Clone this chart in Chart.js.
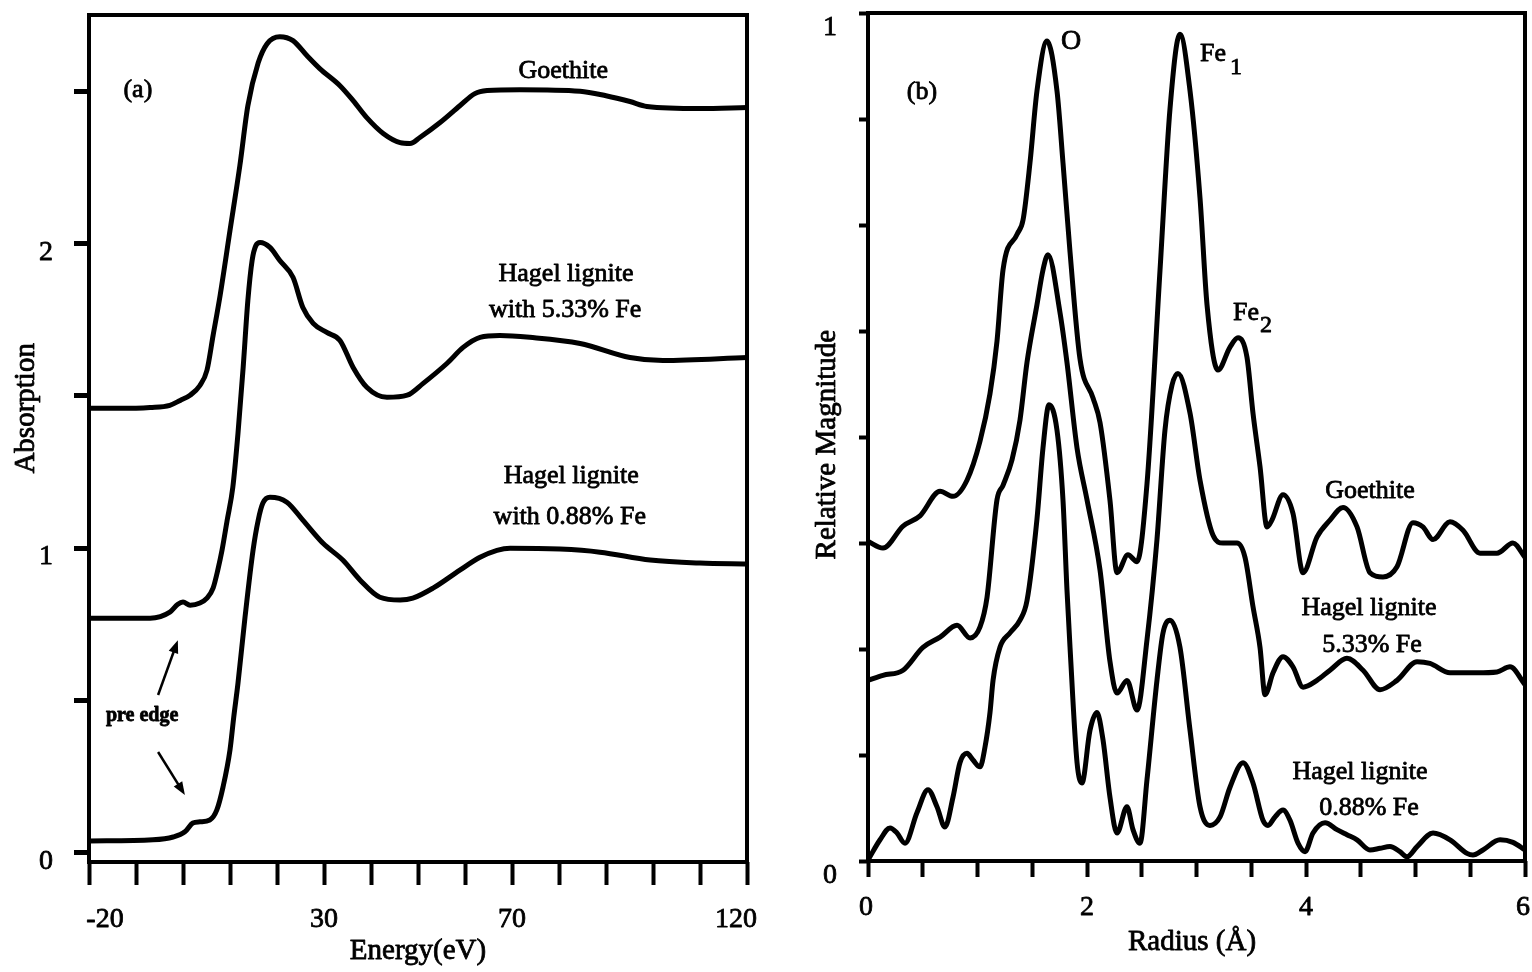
<!DOCTYPE html>
<html>
<head>
<meta charset="utf-8">
<script src="https://cdn.jsdelivr.net/npm/chart.js@4.4.1/dist/chart.umd.min.js"></script>
<style>
  html, body { margin: 0; padding: 0; background: #fff; }
  #wrap { position: relative; width: 1532px; height: 972px; overflow: hidden; }
  .panel { position: absolute; top: 0; width: 766px; height: 972px; }
  #panelA { left: 0; }
  #panelB { left: 766px; }
</style>
</head>
<body>
<div id="wrap">
  <div class="panel" id="panelA"><canvas id="chartA"></canvas></div>
  <div class="panel" id="panelB"><canvas id="chartB"></canvas></div>
</div>
<script>
// (a) XANES: absorption vs energy, spectra offset vertically
const energyGoethite = [-20, -13.4, -7, -2.8, -0.6, 1.5, 3.6, 5.1, 6.4, 7.9, 10.0, 12.1, 13.8, 16.0, 17.9, 20.6, 23.4, 26.4, 29.1, 33.4, 36.2, 39.1, 42.6, 46.2, 48.3, 50.4, 54.7, 58.9, 62.1, 64.7, 71.7, 84.5, 90.0, 95.1, 98.7, 110, 120];
const absGoethite = [1.459, 1.459, 1.462, 1.469, 1.485, 1.502, 1.534, 1.584, 1.698, 1.830, 2.043, 2.256, 2.452, 2.593, 2.656, 2.679, 2.666, 2.616, 2.574, 2.518, 2.469, 2.413, 2.361, 2.331, 2.328, 2.348, 2.397, 2.452, 2.492, 2.502, 2.505, 2.500, 2.485, 2.466, 2.450, 2.443, 2.446];

const energyHagel533 = [-20, -7, -2.8, -1.1, 0, 1.5, 3.6, 5.1, 6.4, 7.4, 8.3, 9.4, 10.6, 11.7, 12.8, 13.8, 14.7, 15.5, 16.4, 18.5, 20.6, 23.4, 25.5, 27.7, 30.6, 33.4, 36.2, 39.1, 43.4, 47.7, 51.1, 56.2, 59.6, 63.2, 67.4, 73.8, 84.5, 95.1, 102.1, 120];
const absHagel533 = [0.770, 0.770, 0.790, 0.816, 0.823, 0.813, 0.820, 0.836, 0.869, 0.928, 0.993, 1.092, 1.200, 1.377, 1.593, 1.813, 1.944, 1.993, 2.003, 1.987, 1.944, 1.889, 1.790, 1.738, 1.708, 1.682, 1.593, 1.528, 1.495, 1.502, 1.541, 1.607, 1.659, 1.692, 1.698, 1.692, 1.672, 1.626, 1.616, 1.626];

const energyHagel088 = [-20, -6.4, -2.1, 0.4, 2.1, 3.6, 5.7, 7.2, 8.5, 10.0, 10.8, 11.7, 13.2, 14.9, 16.0, 17.0, 18.5, 22.1, 25.5, 29.8, 34.0, 37.7, 41.9, 46.2, 48.9, 53.2, 58.9, 63.2, 66.8, 69.6, 80.2, 88.7, 99.4, 110, 120];
const absHagel088 = [0.039, 0.043, 0.052, 0.069, 0.098, 0.102, 0.108, 0.141, 0.215, 0.338, 0.446, 0.557, 0.774, 0.993, 1.092, 1.148, 1.167, 1.151, 1.092, 1.016, 0.961, 0.895, 0.839, 0.830, 0.836, 0.869, 0.928, 0.970, 0.993, 1.000, 0.997, 0.987, 0.961, 0.951, 0.948];

const energyTickLabels = [-20, 30, 70, 120];
const absorptionTickLabels = [0, 1, 2];

// (b) Fourier transform magnitude vs radius
const radiusGoethite = [0, 0.137, 0.320, 0.475, 0.658, 0.776, 0.904, 1.023, 1.114, 1.178, 1.233, 1.361, 1.416, 1.479, 1.543, 1.635, 1.726, 1.781, 1.845, 1.936, 2.055, 2.119, 2.210, 2.274, 2.374, 2.457, 2.548, 2.667, 2.758, 2.849, 2.941, 3.032, 3.096, 3.196, 3.306, 3.379, 3.461, 3.516, 3.580, 3.644, 3.689, 3.790, 3.881, 3.973, 4.100, 4.219, 4.338, 4.466, 4.584, 4.703, 4.831, 4.977, 5.068, 5.160, 5.315, 5.434, 5.589, 5.744, 5.890, 6.0];
const magGoethite = [0.377, 0.369, 0.395, 0.407, 0.436, 0.430, 0.449, 0.495, 0.551, 0.613, 0.697, 0.739, 0.756, 0.823, 0.908, 0.967, 0.908, 0.823, 0.718, 0.592, 0.546, 0.517, 0.425, 0.340, 0.361, 0.353, 0.445, 0.697, 0.887, 0.975, 0.908, 0.782, 0.656, 0.579, 0.606, 0.617, 0.594, 0.528, 0.465, 0.394, 0.402, 0.432, 0.410, 0.340, 0.382, 0.402, 0.417, 0.394, 0.340, 0.335, 0.347, 0.399, 0.394, 0.379, 0.400, 0.390, 0.363, 0.363, 0.375, 0.358];

const radiusHagel533 = [0, 0.137, 0.320, 0.502, 0.658, 0.813, 0.932, 1.023, 1.087, 1.178, 1.233, 1.315, 1.388, 1.452, 1.543, 1.598, 1.644, 1.753, 1.817, 1.909, 2.000, 2.119, 2.210, 2.274, 2.365, 2.457, 2.548, 2.639, 2.712, 2.776, 2.831, 2.941, 3.032, 3.151, 3.242, 3.370, 3.443, 3.516, 3.580, 3.626, 3.699, 3.790, 3.881, 3.973, 4.100, 4.219, 4.374, 4.521, 4.676, 4.831, 5.014, 5.132, 5.315, 5.562, 5.744, 5.863, 6.0];
const magHagel533 = [0.213, 0.219, 0.225, 0.252, 0.264, 0.278, 0.263, 0.276, 0.311, 0.426, 0.443, 0.473, 0.520, 0.588, 0.656, 0.697, 0.715, 0.647, 0.588, 0.487, 0.426, 0.343, 0.235, 0.198, 0.213, 0.178, 0.261, 0.379, 0.508, 0.561, 0.575, 0.528, 0.449, 0.384, 0.375, 0.375, 0.358, 0.300, 0.252, 0.196, 0.222, 0.241, 0.229, 0.205, 0.213, 0.225, 0.239, 0.225, 0.202, 0.213, 0.235, 0.233, 0.222, 0.222, 0.223, 0.229, 0.208];

const radiusHagel088 = [0, 0.110, 0.201, 0.265, 0.338, 0.447, 0.548, 0.630, 0.703, 0.776, 0.840, 0.904, 0.959, 1.023, 1.068, 1.114, 1.142, 1.205, 1.297, 1.388, 1.452, 1.543, 1.598, 1.653, 1.726, 1.781, 1.817, 1.845, 1.909, 1.954, 2.027, 2.091, 2.146, 2.210, 2.274, 2.365, 2.420, 2.484, 2.548, 2.639, 2.694, 2.758, 2.849, 2.941, 3.032, 3.123, 3.215, 3.306, 3.425, 3.516, 3.607, 3.653, 3.717, 3.790, 3.854, 3.927, 3.991, 4.064, 4.174, 4.283, 4.374, 4.466, 4.584, 4.676, 4.767, 4.858, 4.922, 5.014, 5.160, 5.315, 5.470, 5.525, 5.616, 5.772, 5.890, 6.0];
const magHagel088 = [0.001, 0.025, 0.039, 0.033, 0.021, 0.057, 0.084, 0.064, 0.040, 0.075, 0.116, 0.127, 0.119, 0.111, 0.134, 0.175, 0.213, 0.252, 0.269, 0.284, 0.307, 0.403, 0.487, 0.538, 0.508, 0.425, 0.320, 0.252, 0.116, 0.092, 0.154, 0.175, 0.143, 0.075, 0.033, 0.064, 0.037, 0.021, 0.096, 0.213, 0.269, 0.284, 0.252, 0.154, 0.064, 0.042, 0.052, 0.087, 0.116, 0.092, 0.048, 0.042, 0.052, 0.060, 0.048, 0.021, 0.011, 0.033, 0.045, 0.037, 0.031, 0.025, 0.013, 0.015, 0.017, 0.011, 0.005, 0.017, 0.033, 0.025, 0.009, 0.007, 0.013, 0.025, 0.022, 0.013];

const radiusTickLabels = [0, 2, 4, 6];
const magnitudeTickLabels = [0, 1];

const SERIF = '"Liberation Serif", "DejaVu Serif", serif';

const toPoints = (xs, ys) => xs.map((x, i) => ({ x, y: ys[i] }));

const curve = (xs, ys) => ({
  data: toPoints(xs, ys),
  borderColor: '#000',
  borderWidth: 5,
  borderCapStyle: 'round',
  borderJoinStyle: 'round',
  pointRadius: 0,
  fill: false,
  cubicInterpolationMode: 'monotone',
});

// fill plus a hairline stroke so the printed type reads a little heavier
function ink(ctx, text, x, y) {
  ctx.fillText(text, x, y);
  ctx.strokeText(text, x, y);
}

// frame, tick labels, captions and arrows drawn on top of the plot
function figureText(spec) {
  return {
    id: 'figureText',
    afterDraw(chart) {
      const { ctx, chartArea: area, scales: { x, y } } = chart;
      ctx.save();
      ctx.strokeStyle = '#000';
      ctx.fillStyle = '#000';
      ctx.lineWidth = 4;
      ctx.strokeRect(area.left, area.top, area.right - area.left, area.bottom - area.top);

      ctx.lineWidth = 0.8;
      ctx.lineJoin = 'round';
      ctx.font = '28px ' + SERIF;
      ctx.textBaseline = 'alphabetic';
      ctx.textAlign = 'center';
      const last = spec.xTicks.length - 1;
      spec.xTicks.forEach((v, i) => {
        let px = x.getPixelForValue(v);
        if (i === 0) px += spec.xInset[0];
        if (i === last) px += spec.xInset[1];
        ink(ctx, String(v), px, area.bottom + spec.xBase);
      });
      ctx.textAlign = 'right';
      spec.yTicks.forEach(v => {
        ink(ctx, String(v), area.left - spec.yGap, y.getPixelForValue(v) + spec.yBase);
      });

      ctx.textBaseline = 'middle';
      spec.notes.forEach(n => {
        ctx.font = (n.weight || 'normal') + ' ' + (n.size || 26) + 'px ' + SERIF;
        ctx.textAlign = n.align || 'center';
        const px = x.getPixelForValue(n.x);
        const py = y.getPixelForValue(n.y);
        if (n.rotate) {
          ctx.save();
          ctx.translate(px, py);
          ctx.rotate(n.rotate * Math.PI / 180);
          ink(ctx, n.text, 0, 0);
          ctx.restore();
        } else {
          ink(ctx, n.text, px, py);
        }
      });

      (spec.arrows || []).forEach(a => {
        const x0 = x.getPixelForValue(a.from[0]), y0 = y.getPixelForValue(a.from[1]);
        const x1 = x.getPixelForValue(a.to[0]), y1 = y.getPixelForValue(a.to[1]);
        const ang = Math.atan2(y1 - y0, x1 - x0);
        const head = 13, half = 5;
        ctx.lineWidth = 2.5;
        ctx.beginPath();
        ctx.moveTo(x0, y0);
        ctx.lineTo(x1 - Math.cos(ang) * head * 0.8, y1 - Math.sin(ang) * head * 0.8);
        ctx.stroke();
        ctx.beginPath();
        ctx.moveTo(x1, y1);
        ctx.lineTo(x1 - Math.cos(ang) * head - Math.sin(ang) * half, y1 - Math.sin(ang) * head + Math.cos(ang) * half);
        ctx.lineTo(x1 - Math.cos(ang) * head + Math.sin(ang) * half, y1 - Math.sin(ang) * head - Math.cos(ang) * half);
        ctx.closePath();
        ctx.fill();
      });
      ctx.restore();
    }
  };
}

function axis(opts) {
  return {
    type: 'linear',
    min: opts.min,
    max: opts.max,
    ticks: { display: false, stepSize: opts.step, includeBounds: false },
    grid: { drawOnChartArea: false, tickLength: opts.tickLength, tickWidth: opts.tickWidth, tickColor: '#000' },
    border: { display: false },
    afterFit: opts.fit,
  };
}

function baseOptions(padding, scales) {
  return {
    responsive: true,
    maintainAspectRatio: false,
    animation: false,
    layout: { padding },
    plugins: { legend: { display: false }, tooltip: { enabled: false } },
    scales,
  };
}

new Chart(document.getElementById('chartA'), {
  type: 'line',
  data: {
    datasets: [
      curve(energyGoethite, absGoethite),
      curve(energyHagel533, absHagel533),
      curve(energyHagel088, absHagel088),
    ],
  },
  options: baseOptions({ left: 0, right: 19, top: 15, bottom: 0 }, {
    x: axis({ min: -20, max: 120, step: 10, tickLength: 23, tickWidth: 4, fit: s => { s.height = 110; } }),
    y: axis({ min: -0.03, max: 2.75, step: 0.5, tickLength: 15, tickWidth: 5, fit: s => { s.width = 89; } }),
  }),
  plugins: [figureText({
    xTicks: energyTickLabels,
    yTicks: absorptionTickLabels,
    xInset: [16, -11],
    xBase: 65,
    yGap: 36,
    yBase: 16,
    notes: [
      { text: '(a)', x: -9.6, y: 2.502 },
      { text: 'Goethite', x: 80.9, y: 2.567 },
      { text: 'Hagel lignite', x: 81.5, y: 1.898 },
      { text: 'with 5.33% Fe', x: 81.3, y: 1.780 },
      { text: 'Hagel lignite', x: 82.6, y: 1.236 },
      { text: 'with 0.88% Fe', x: 82.3, y: 1.102 },
      { text: 'pre edge', x: -8.7, y: 0.449, size: 20, weight: 'bold' },
      { text: 'Energy(eV)', x: 50, y: -0.325, size: 29 },
      { text: 'Absorption', x: -33.4, y: 1.459, size: 29, rotate: -90 },
    ],
    arrows: [
      { from: [-5.3, 0.518], to: [-1.1, 0.698] },
      { from: [-5.3, 0.331], to: [0.4, 0.190] },
    ],
  })],
});

new Chart(document.getElementById('chartB'), {
  type: 'line',
  data: {
    datasets: [
      curve(radiusGoethite, magGoethite),
      curve(radiusHagel533, magHagel533),
      curve(radiusHagel088, magHagel088),
    ],
  },
  options: baseOptions({ left: 0, right: 7, top: 13, bottom: 0 }, {
    x: axis({ min: 0, max: 6, step: 0.5, tickLength: 16, tickWidth: 4, fit: s => { s.height = 111; } }),
    y: axis({ min: 0, max: 1, step: 0.125, tickLength: 9, tickWidth: 4, fit: s => { s.width = 102; } }),
  }),
  plugins: [figureText({
    xTicks: radiusTickLabels,
    yTicks: magnitudeTickLabels,
    xInset: [-2, -2],
    xBase: 54,
    yGap: 31,
    yBase: 22,
    notes: [
      { text: '(b)', x: 0.493, y: 0.907 },
      { text: 'O', x: 1.854, y: 0.966, size: 28 },
      { text: 'Fe', x: 3.032, y: 0.952, align: 'left' },
      { text: '1', x: 3.361, y: 0.935, size: 24 },
      { text: 'Fe', x: 3.333, y: 0.646, align: 'left' },
      { text: '2', x: 3.635, y: 0.631, size: 24 },
      { text: 'Goethite', x: 4.584, y: 0.436 },
      { text: 'Hagel lignite', x: 4.575, y: 0.298 },
      { text: '5.33% Fe', x: 4.603, y: 0.254 },
      { text: 'Hagel lignite', x: 4.493, y: 0.105 },
      { text: '0.88% Fe', x: 4.575, y: 0.0625 },
      { text: 'Radius (Å)', x: 2.959, y: -0.0955, size: 29 },
      { text: 'Relative Magnitude', x: -0.374, y: 0.491, size: 29, rotate: -90 },
    ],
  })],
});
</script>
</body>
</html>
